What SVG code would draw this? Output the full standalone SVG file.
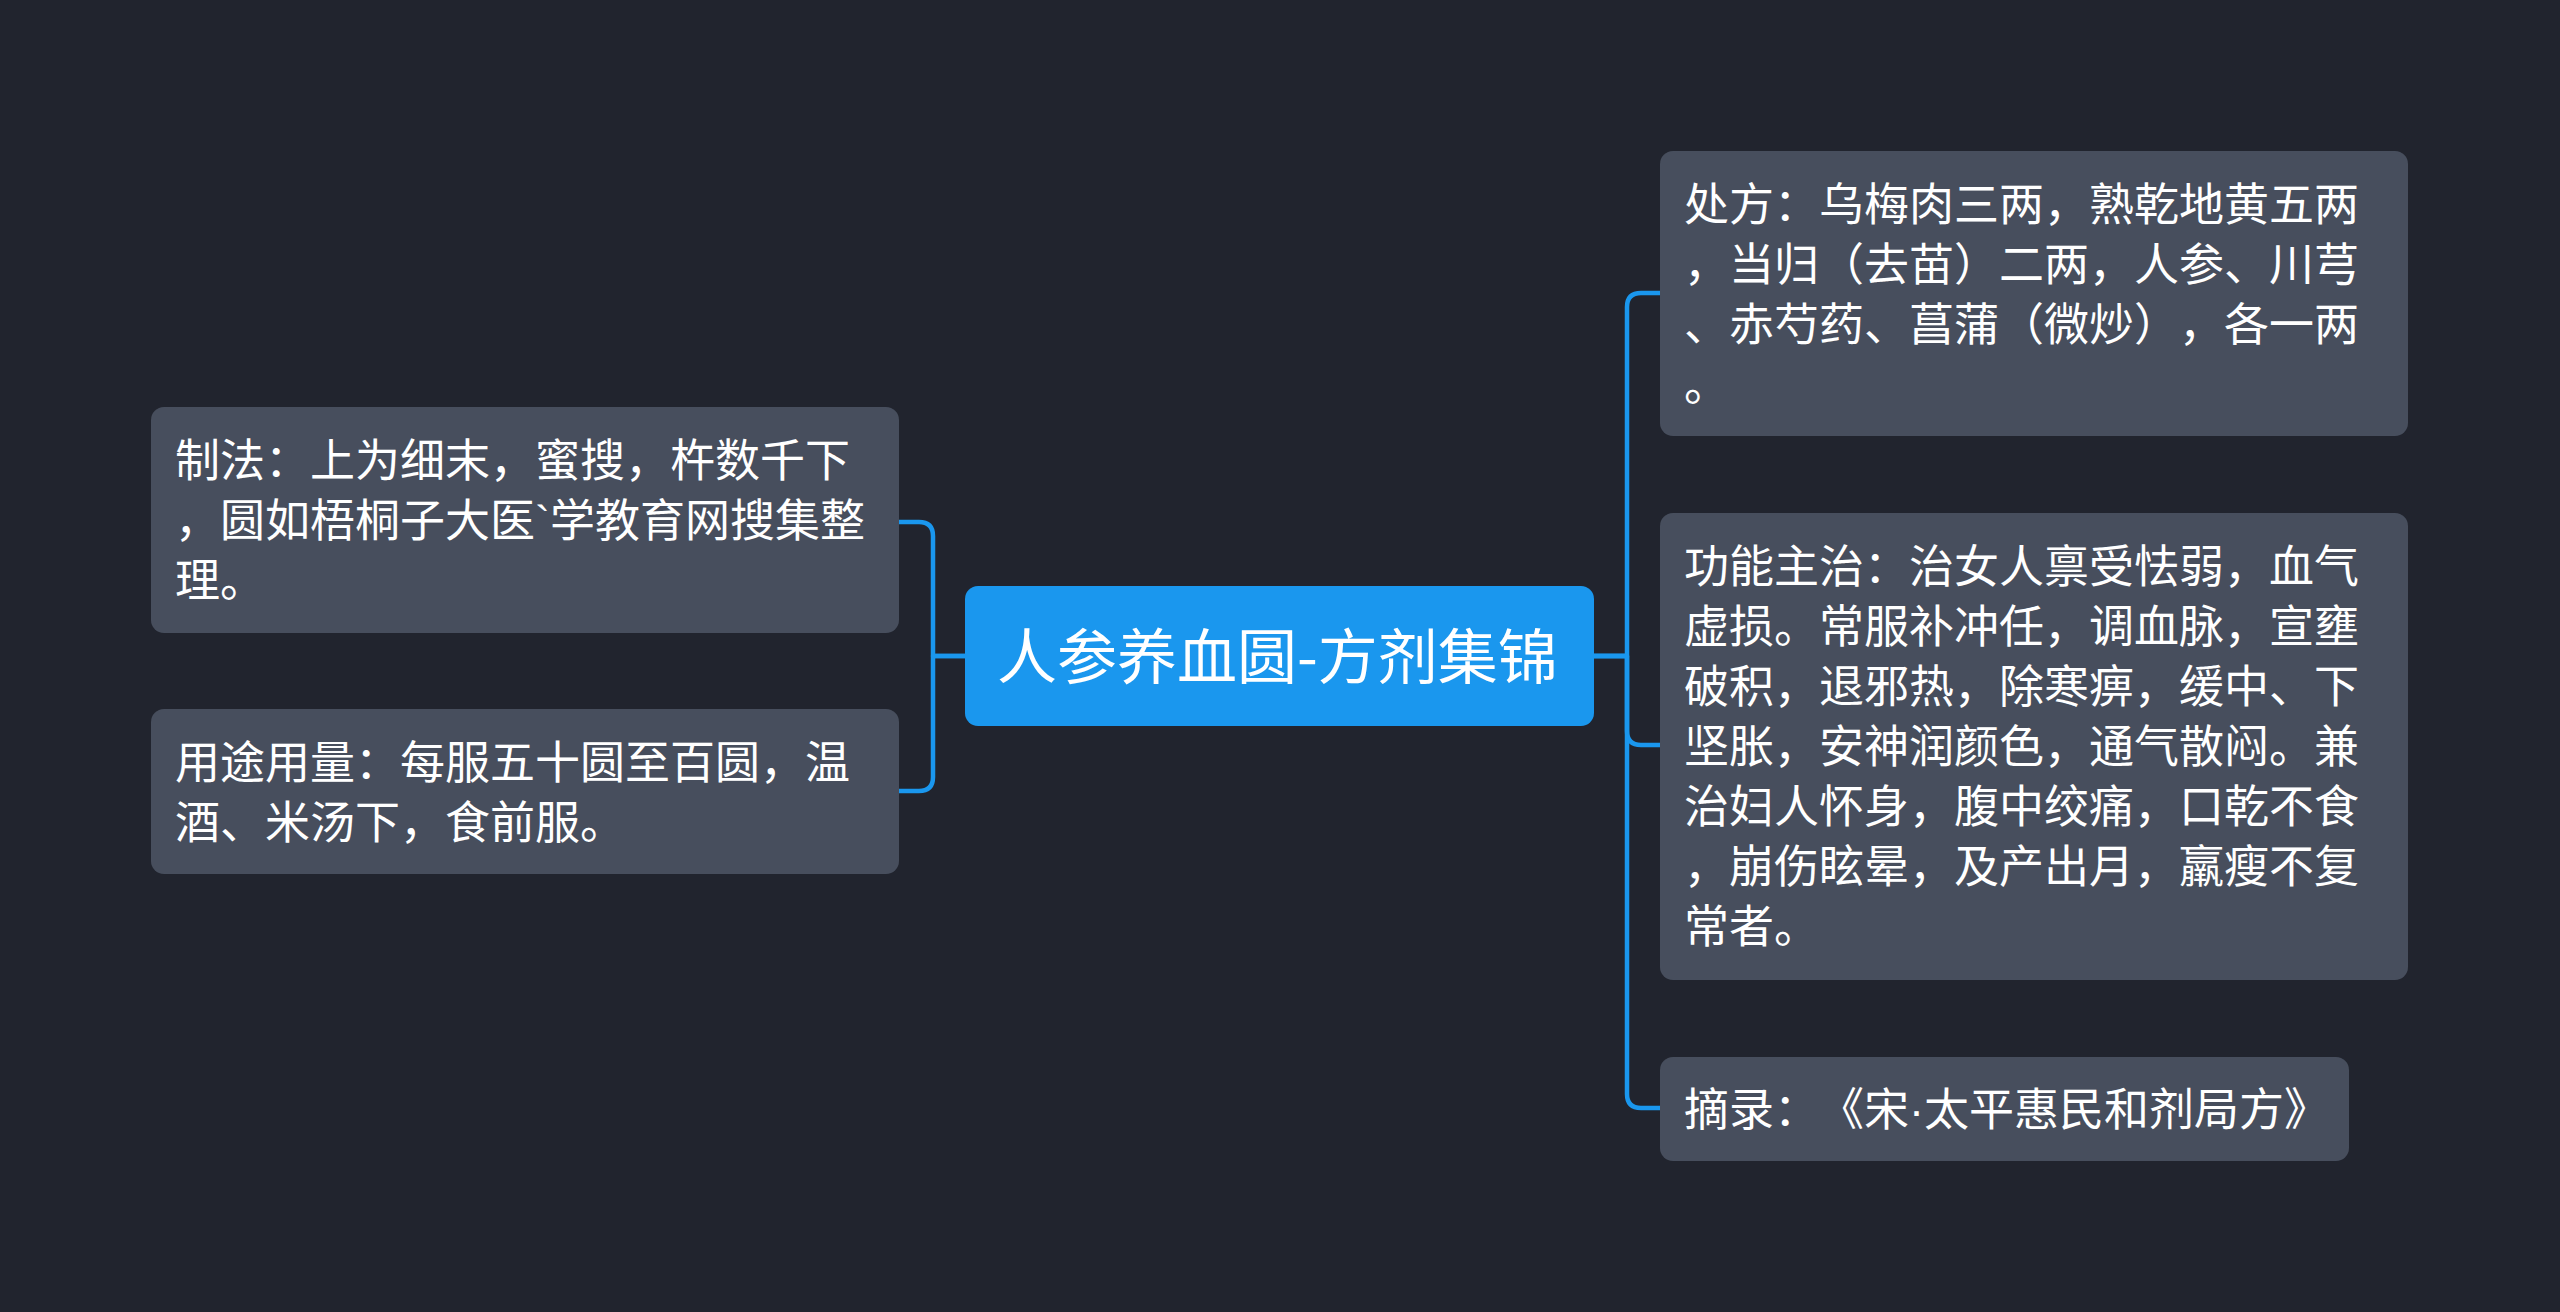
<svg xmlns="http://www.w3.org/2000/svg" width="2560" height="1312" viewBox="0 0 2560 1312">
<style>
.bg{fill:#21242e}
.node{fill:#474e5d}
.root{fill:#1a97ee}
text{text-spacing-trim:space-all;font-feature-settings:"chws" 0,"halt" 0,"palt" 0}
.t{font-family:"Noto Sans CJK SC","Noto Sans",sans-serif;font-size:45px;fill:#ffffff}
.rt{font-family:"Noto Sans CJK SC","Noto Sans",sans-serif;font-size:60px;fill:#ffffff}
.lat{font-family:"Liberation Sans","Noto Sans",sans-serif}
.link{fill:none;stroke:#1a97ee;stroke-width:4.5;stroke-linejoin:round}
</style>
<rect class="bg" x="0" y="0" width="2560" height="1312"/>
<g id="connectors">
<path class="link" d="M965,656 H933 V536 Q933,522 919,522 H899"/>
<path class="link" d="M965,656 H933 V777 Q933,791 919,791 H899"/>
<path class="link" d="M1594,656 H1627 V307 Q1627,293 1641,293 H1661"/>
<path class="link" d="M1594,656 H1627 V731 Q1627,745 1641,745 H1661"/>
<path class="link" d="M1594,656 H1627 V1094 Q1627,1108 1641,1108 H1661"/>
</g>
<g id="root">
<rect class="root" x="965" y="586" width="629" height="140" rx="13"/>
<text class="rt" x="997" y="679">人参养血圆-方剂集锦</text>
</g>
<g id="node-zhifa">
<rect class="node" x="151" y="407" width="748" height="226" rx="13"/>
<text class="t" x="175" y="477">制法：上为细末，蜜搜，杵数千下</text>
<text class="t" x="175" y="537">，圆如梧桐子大医<tspan class="lat">`</tspan>学教育网搜集整</text>
<text class="t" x="175" y="597">理。</text>
</g>
<g id="node-yongtu">
<rect class="node" x="151" y="709" width="748" height="165" rx="13"/>
<text class="t" x="175" y="779">用途用量：每服五十圆至百圆，温</text>
<text class="t" x="175" y="839">酒、米汤下，食前服。</text>
</g>
<g id="node-chufang">
<rect class="node" x="1660" y="151" width="748" height="285" rx="13"/>
<text class="t" x="1684" y="221">处方：乌梅肉三两，熟乾地黄五两</text>
<text class="t" x="1684" y="281">，当归（去苗）二两，人参、川芎</text>
<text class="t" x="1684" y="341">、赤芍药、菖蒲（微炒），各一两</text>
<text class="t" x="1684" y="401">。</text>
</g>
<g id="node-gongneng">
<rect class="node" x="1660" y="513" width="748" height="467" rx="13"/>
<text class="t" x="1684" y="583">功能主治：治女人禀受怯弱，血气</text>
<text class="t" x="1684" y="643">虚损。常服补冲任，调血脉，宣壅</text>
<text class="t" x="1684" y="703">破积，退邪热，除寒痹，缓中、下</text>
<text class="t" x="1684" y="763">坚胀，安神润颜色，通气散闷。兼</text>
<text class="t" x="1684" y="823">治妇人怀身，腹中绞痛，口乾不食</text>
<text class="t" x="1684" y="883">，崩伤眩晕，及产出月，羸瘦不复</text>
<text class="t" x="1684" y="943">常者。</text>
</g>
<g id="node-zhailu">
<rect class="node" x="1660" y="1057" width="689" height="104" rx="13"/>
<text class="t" x="1684" y="1126">摘录：《宋<tspan class="lat">·</tspan>太平惠民和剂局方》</text>
</g>
</svg>
